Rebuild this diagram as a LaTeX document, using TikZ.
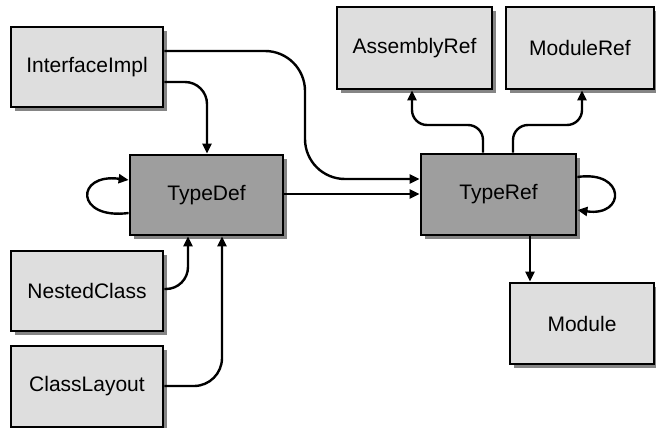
\documentclass[tikz,border=0pt]{standalone}
\usepackage{fontspec}
\setmainfont{Liberation Sans}
\usetikzlibrary{arrows.meta,shadows}
\definecolor{lightbox}{HTML}{DEDEDE}
\definecolor{darkbox}{HTML}{9E9E9E}
\definecolor{shadowgray}{HTML}{858585}
\tikzset{
  tbl/.style={draw=black, line width=2.8pt, minimum width=152pt, minimum height=80pt,
    inner sep=0pt, font=\fontsize{21}{25}\selectfont,
    drop shadow={shadow xshift=4pt, shadow yshift=-4pt, fill=shadowgray, opacity=1}},
  lighttbl/.style={tbl, fill=lightbox},
  darktbl/.style={tbl, fill=darkbox},
  link/.style={line width=2.4pt, -{Triangle[length=10pt,width=9pt]}},
}
\begin{document}
\begin{tikzpicture}[x=1pt,y=-1pt]
\useasboundingbox[fill=white] (0,0) rectangle (656,428);

% tables
\node[lighttbl] (ii) at (87,67) {InterfaceImpl};
\node[darktbl, minimum width=153pt] (td) at (206.5,195) {TypeDef};
\node[lighttbl] (nc) at (87,291) {NestedClass};
\node[lighttbl, minimum height=81pt] (cl) at (87,386.5) {ClassLayout};
\node[lighttbl, minimum width=155pt, minimum height=82pt] (ar) at (414.5,48) {AssemblyRef};
\node[lighttbl, minimum width=148pt, minimum height=82pt] (mr) at (580,48) {ModuleRef};
\node[darktbl, minimum width=155pt, minimum height=81pt] (tr) at (498.5,194.5) {TypeRef};
\node[lighttbl, minimum width=144pt, minimum height=81pt] (mo) at (582,323.5) {Module};

% attachment points on the box edges
\coordinate (iiA) at (ii.east |- 0,51);
\coordinate (iiB) at (ii.east |- 0,82);
\coordinate (trIn1) at (tr.west |- 0,179);
\coordinate (tdOut) at (td.east |- 0,194);
\coordinate (trIn2) at (tr.west |- 0,194);
\coordinate (tdTop) at (td.north -| 207,0);
\coordinate (tdB1) at (td.south -| 188,0);
\coordinate (tdB2) at (td.south -| 222,0);
\coordinate (ncOut) at (nc.east |- 0,289);
\coordinate (clOut) at (cl.east |- 0,386);
\coordinate (tdL1) at (td.west |- 0,213);
\coordinate (tdL2) at (td.west |- 0,180);
\coordinate (trT1) at (tr.north -| 483,0);
\coordinate (trT2) at (tr.north -| 513,0);
\coordinate (arIn) at (ar.south -| 412,0);
\coordinate (mrIn) at (mr.south -| 582,0);
\coordinate (trR1) at (tr.east |- 0,177);
\coordinate (trR2) at (tr.east |- 0,210);
\coordinate (trB) at (tr.south -| 530,0);
\coordinate (moIn) at (mo.north -| 530,0);

% connectors
\draw[link, rounded corners=22pt] (iiB) -| (tdTop);
\draw[link, rounded corners=40pt] (iiA) -- (305,51) -- (305,179) -- (trIn1);
\draw[link] (tdOut) -- (trIn2);
\draw[link] (tdL1) .. controls (75,220) and (75,173) .. (tdL2);
\draw[link, rounded corners=22pt] (ncOut) -| (tdB1);
\draw[link, rounded corners=28pt] (clOut) -| (tdB2);
\draw[link, rounded corners=15pt] (trT1) -- (483,125) -- (412,125) -- (arIn);
\draw[link, rounded corners=15pt] (trT2) -- (513,125) -- (582,125) -- (mrIn);
\draw[link] (trR1) .. controls (626,170) and (626,217) .. (trR2);
\draw[link] (trB) -- (moIn);
\end{tikzpicture}
\end{document}
